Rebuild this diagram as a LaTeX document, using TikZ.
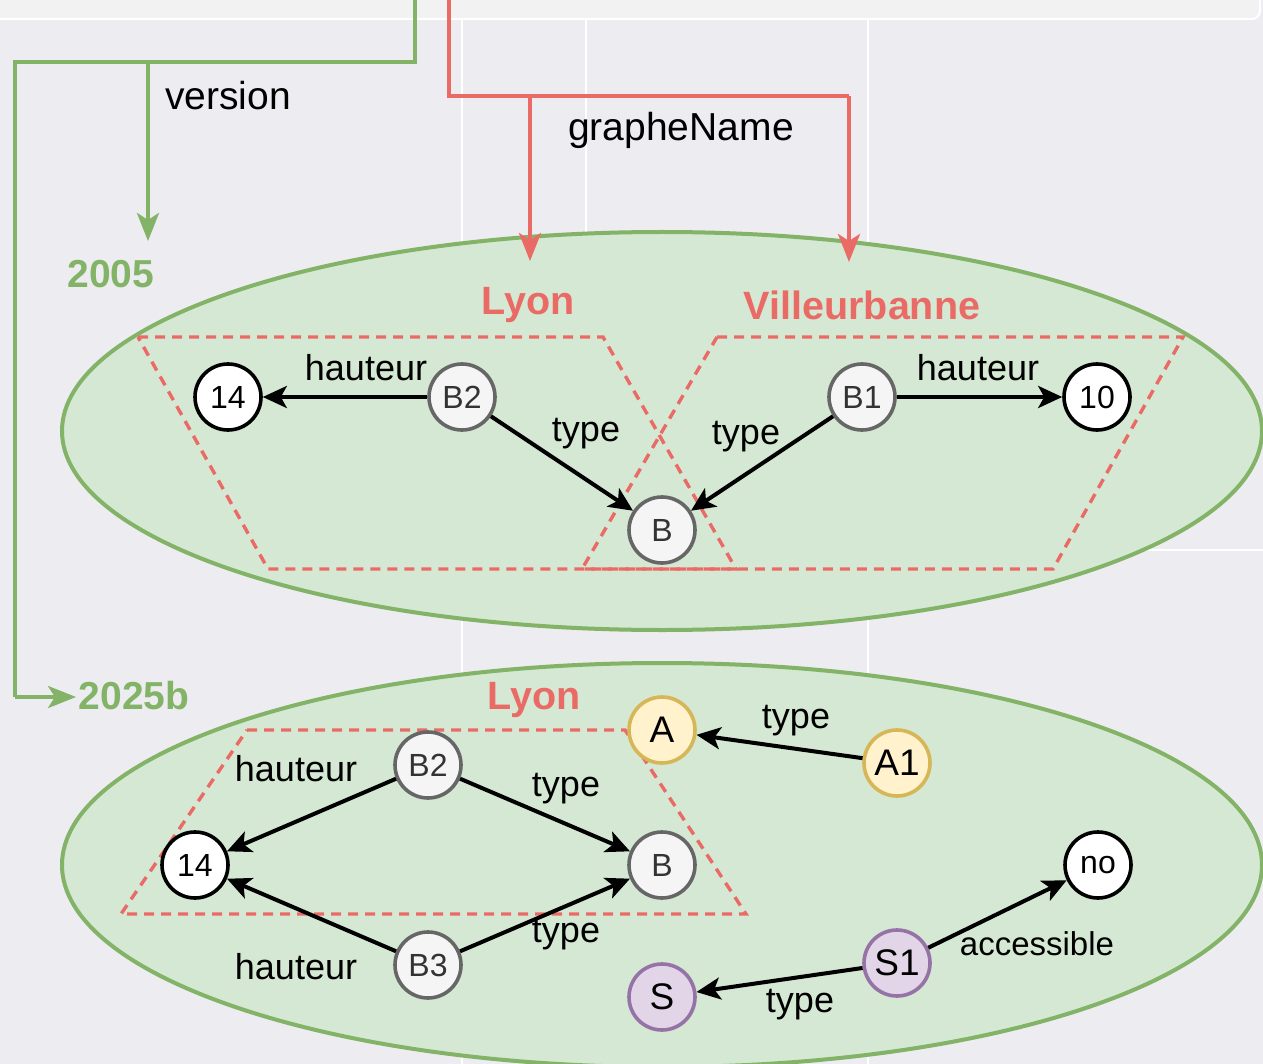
\documentclass[tikz,border=0pt]{standalone}
\usepackage{fontspec}
\setmainfont{Liberation Sans}
\usetikzlibrary{arrows.meta}
\definecolor{bgc}{HTML}{EDECF1}
\definecolor{stripc}{HTML}{F2F2F2}
\definecolor{gfill}{HTML}{D5E8D4}
\definecolor{gline}{HTML}{82B366}
\definecolor{rline}{HTML}{EA6B66}
\definecolor{grayfill}{HTML}{F5F5F5}
\definecolor{graydraw}{HTML}{666666}
\definecolor{yfill}{HTML}{FFF2CC}
\definecolor{ydraw}{HTML}{D6B656}
\definecolor{pfill}{HTML}{E1D5E7}
\definecolor{pdraw}{HTML}{9673A6}
\begin{document}
\begin{tikzpicture}[x=1pt,y=-1pt,
  basenode/.style={circle, line width=3.6pt, minimum size=66pt, inner sep=0pt, font=\fontsize{32}{32}\selectfont},
  res/.style={basenode, draw=graydraw, fill=grayfill, text=black!80},
  lit/.style={basenode, draw=black, fill=white},
  cls/.style={basenode, draw=ydraw, fill=yfill, font=\fontsize{37}{37}\selectfont},
  pcls/.style={basenode, draw=pdraw, fill=pfill, font=\fontsize{37}{37}\selectfont},
  arr/.style={-{Stealth[length=24pt,width=22pt,inset=6pt]}, line width=4pt},
  lbl/.style={font=\fontsize{36}{36}\selectfont, inner sep=0pt},
  smlbl/.style={font=\fontsize{33}{33}\selectfont, inner sep=0pt},
  biglbl/.style={font=\fontsize{39}{39}\selectfont, inner sep=0pt},
  glbl/.style={font=\bfseries\fontsize{39}{39}\selectfont, inner sep=0pt, text=gline},
  rlbl/.style={font=\bfseries\fontsize{39.5}{39.5}\selectfont, inner sep=0pt, text=rline},
  graph/.style={draw=gline, fill=gfill, line width=4pt},
  sub/.style={draw=rline, dash pattern=on 10pt off 7pt, line width=3.4pt},
  gconn/.style={draw=gline, line width=4pt},
  rconn/.style={draw=rline, line width=4pt},
  gtip/.style={-{Stealth[length=28pt,width=22pt,inset=7pt]}},
]
\useasboundingbox (0,0) rectangle (1263,1064);
% background
\fill[bgc] (0,0) rectangle (1263,1064);
\draw[white, line width=1.5pt] (462,19) -- (462,1064);
\draw[white, line width=1.5pt] (586,19) -- (586,300);
\draw[white, line width=1.5pt] (868,19) -- (868,1064);
\draw[white, line width=1.5pt] (1100,550) -- (1263,550);
\filldraw[fill=stripc, draw=white, line width=2pt, rounded corners=8pt] (-20,-20) rectangle (1260,19);

% graph ellipses
\draw[graph] (662,431) ellipse [x radius=600pt, y radius=199pt];
\draw[graph] (662,865) ellipse [x radius=600pt, y radius=202pt];

% subgraph outlines
\draw[sub] (138,337) -- (603,337) -- (736,569) -- (268,569) -- cycle;
\draw[sub] (717,337) -- (1183,337) -- (1053,569) -- (582,569) -- cycle;
\draw[sub] (247,730) -- (625,730) -- (746,914) -- (121,914) -- cycle;

% labels of graphs
\node[glbl] (l2005) at (111,274) {2005};
\node[glbl] (l2025) at (134,696) {2025b};
\node[rlbl] (lyon1) at (528,305) {Lyon};
\node[rlbl] (vill) at (862,305) {Villeurbanne};
\node[rlbl] (lyon2) at (534,700) {Lyon};

% connectors from the top
\coordinate (gtop) at (415,0);
\coordinate (gc1) at (415,62);
\coordinate (gc2) at (15,62);
\coordinate (gb) at (148,62);
\coordinate (g2005) at (148,241);
\coordinate (gc3) at (15,697);
\coordinate (g2025) at (76,697);
\draw[gconn] (gtop) -- (gc1) -- (gc2) -- (gc3);
\draw[gconn, gtip] (gc3) -- (g2025);
\draw[gconn, gtip] (gb) -- (g2005);
\node[biglbl] (version) at (228,96) {version};

\coordinate (rtop) at (449,0);
\coordinate (rc1) at (449,96);
\coordinate (rc2) at (849,96);
\coordinate (rb) at (530,96);
\coordinate (rlyon) at (530,261);
\coordinate (rvill) at (849,262);
\draw[rconn] (rtop) -- (rc1) -- (rc2);
\draw[rconn, gtip] (rc2) -- (rvill);
\draw[rconn, gtip] (rb) -- (rlyon);
\node[biglbl] (gname) at (681,130) {grapheName};

% top graph nodes
\node[lit] (t14) at (228,397) {14};
\node[res] (tB2) at (462,397) {B2};
\node[res] (tB) at (662,530) {B};
\node[res] (tB1) at (862,397) {B1};
\node[lit] (t10) at (1097,397) {10};
\draw[arr] (tB2) -- (t14);
\draw[arr] (tB2) -- (tB);
\draw[arr] (tB1) -- (tB);
\draw[arr] (tB1) -- (t10);
\node[lbl] (h1) at (366,368) {hauteur};
\node[lbl] (ty1) at (586,434) {type};
\node[lbl] (ty2) at (746,437) {type};
\node[lbl] (h2) at (978,368) {hauteur};

% bottom graph nodes
\node[cls] (bA) at (662,730) {A};
\node[cls] (bA1) at (897,763) {A1};
\node[res] (bB2) at (428,765) {B2};
\node[lit] (b14) at (195,865) {14};
\node[res] (bB) at (662,865) {B};
\node[res] (bB3) at (428,965) {B3};
\node[pcls] (bS) at (662,997) {S};
\node[pcls] (bS1) at (897,963) {S1};
\node[lit] (bno) at (1098,865) {no};
\draw[arr] (bB2) -- (b14);
\draw[arr] (bB2) -- (bB);
\draw[arr] (bB3) -- (b14);
\draw[arr] (bB3) -- (bB);
\draw[arr] (bA1) -- (bA);
\draw[arr] (bS1) -- (bno);
\draw[arr] (bS1) -- (bS);
\node[lbl] (h3) at (296,769) {hauteur};
\node[lbl] (ty3) at (566,789) {type};
\node[lbl] (h4) at (296,967) {hauteur};
\node[lbl] (ty4) at (566,935) {type};
\node[lbl] (ty5) at (796,721) {type};
\node[smlbl] (acc) at (1037,944) {accessible};
\node[lbl] (ty6) at (800,1005) {type};
\end{tikzpicture}
\end{document}
